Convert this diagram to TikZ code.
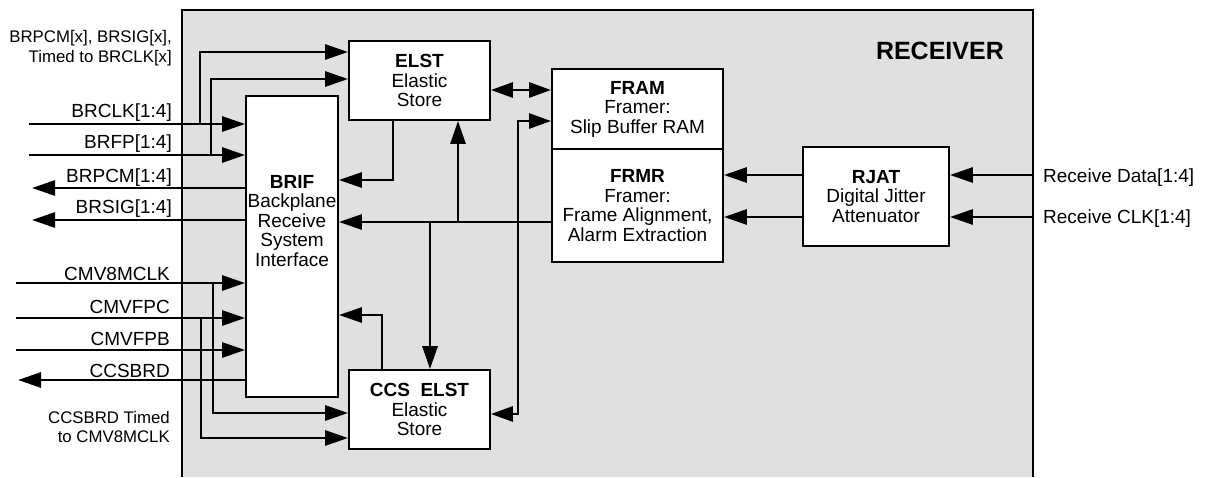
\documentclass[tikz,border=0pt]{standalone}
\usepackage{fontspec}
\setmainfont{Liberation Sans}
\usetikzlibrary{arrows.meta,calc}
\newcommand\myboxfont{\fontsize{19}{19.5}\selectfont}
\newcommand\mynotefont{\fontsize{16.8}{19.5}\selectfont}
\definecolor{recgray}{HTML}{E0E0E0}
\begin{document}
\begin{tikzpicture}[x=1pt,y=-1pt,
  box/.style={draw=black,line width=1.8pt,fill=white,inner sep=0pt,align=center,font=\myboxfont},
  txt/.style={inner sep=0pt,align=center,font=\myboxfont},
  lbl/.style={inner sep=0pt,font=\myboxfont},
  note/.style={inner sep=0pt,align=right,font=\mynotefont},
  wire/.style={line width=2.8pt},
  arr/.style={wire,-{Triangle[length=23pt,width=15pt]}},
  dblarr/.style={wire,{Triangle[length=22pt,width=15pt]}-{Triangle[length=22pt,width=15pt]}}]
\useasboundingbox (0,0) rectangle (1205,477);
% receiver frame
\fill[recgray] (182,10) rectangle (1033,477);
\draw[line width=2pt] (182,477) -- (182,10) -- (1033,10) -- (1033,477);
\node[anchor=base east,inner sep=0pt,font=\bfseries\fontsize{25}{30}\selectfont] (rec) at (1004,59) {RECEIVER};
% blocks
\node[box,minimum width=92pt,minimum height=301pt] (brif) at (292,246.5) {};
\node[txt] (briftext) at (292,221) {\textbf{BRIF}\\Backplane\\Receive\\System\\Interface};
\node[box,minimum width=141pt,minimum height=79pt] (elst) at (419.5,80.5) {\textbf{ELST}\\Elastic\\Store};
\node[box,minimum width=171pt,minimum height=80pt] (fram) at (637.5,109) {\textbf{FRAM}\\Framer:\\Slip Buffer RAM};
\node[box,minimum width=171pt,minimum height=113pt] (frmr) at (637.5,205.5) {\textbf{FRMR}\\Framer:\\Frame Alignment,\\Alarm Extraction};
\node[box,minimum width=141pt,minimum height=79pt] (ccs) at (419.5,409.5) {\textbf{CCS\ \ ELST}\\Elastic\\Store};
\node[box,minimum width=146pt,minimum height=99pt] (rjat) at (876,196.5) {\textbf{RJAT}\\Digital Jitter\\Attenuator};
% coordinates
\coordinate (brclkS) at (29,124);
\coordinate (brfpS) at (29,155);
\coordinate (brpcmE) at (32,188);
\coordinate (brsigE) at (32,220);
\coordinate (cmvS) at (16,283);
\coordinate (cmvfpcS) at (16,318);
\coordinate (cmvfpbS) at (16,350);
\coordinate (ccsbrdE) at (18,380);
\coordinate (j1) at (200,124);
\coordinate (t1) at (200,52);
\coordinate (j2) at (211,155);
\coordinate (t2) at (211,79);
\coordinate (j3) at (213,283);
\coordinate (b3) at (213,413);
\coordinate (j4) at (201,318);
\coordinate (b4) at (201,438);
\coordinate (e1) at (393,180);
\coordinate (bus) at (458,222);
\coordinate (bus2) at (430,222);
\coordinate (d1) at (500,90);
\coordinate (c1) at (518,414);
\coordinate (c2) at (518,121);
\coordinate (c3) at (382,315);
\coordinate (r1) at (1033,175);
\coordinate (r2) at (1033,217);
% left signals
\draw[arr] (brclkS) -- (brclkS -| brif.west);
\draw[arr] (brfpS) -- (brfpS -| brif.west);
\draw[arr] (brif.west |- brpcmE) -- (brpcmE);
\draw[arr] (brif.west |- brsigE) -- (brsigE);
\draw[arr] (cmvS) -- (cmvS -| brif.west);
\draw[arr] (cmvfpcS) -- (cmvfpcS -| brif.west);
\draw[arr] (cmvfpbS) -- (cmvfpbS -| brif.west);
\draw[arr] (brif.west |- ccsbrdE) -- (ccsbrdE);
% branches
\draw[arr] (j1) |- (elst.west |- t1);
\draw[arr] (j2) |- (elst.west |- t2);
\draw[arr] (j3) |- (ccs.west |- b3);
\draw[arr] (j4) |- (ccs.west |- b4);
% internal
\draw[arr] (elst.south -| e1) |- (brif.east |- e1);
\draw[arr] (frmr.west |- bus) -- (brif.east |- bus);
\draw[arr] (bus) -- (elst.south -| bus);
\draw[arr] (bus2) -- (ccs.north -| bus2);
\draw[dblarr] (elst.east |- d1) -- (fram.west |- d1);
\draw[dblarr] (ccs.east |- c1) -- (c1) -- (c2) -- (fram.west |- c2);
\draw[arr] (ccs.north -| c3) |- (brif.east |- c3);
\draw[arr] (rjat.west |- r1) -- (frmr.east |- r1);
\draw[arr] (rjat.west |- r2) -- (frmr.east |- r2);
\draw[arr] (r1) -- (rjat.east |- r1);
\draw[arr] (r2) -- (rjat.east |- r2);
% labels
\node[note,anchor=east] (n1) at (172,48) {BRPCM[x], BRSIG[x],\\Timed to BRCLK[x]};
\node[lbl,anchor=base east] (l1) at (172,117) {BRCLK[1:4]};
\node[lbl,anchor=base east] (l2) at (172,148) {BRFP[1:4]};
\node[lbl,anchor=base east] (l3) at (172,182) {BRPCM[1:4]};
\node[lbl,anchor=base east] (l4) at (172,213) {BRSIG[1:4]};
\node[lbl,anchor=base east] (l5) at (170,280) {CMV8MCLK};
\node[lbl,anchor=base east] (l6) at (170,313) {CMVFPC};
\node[lbl,anchor=base east] (l7) at (170,345) {CMVFPB};
\node[lbl,anchor=base east] (l8) at (170,377) {CCSBRD};
\node[note,anchor=east] (n2) at (170,427) {CCSBRD Timed\\to CMV8MCLK};
\node[lbl,anchor=base west] (l9) at (1043,182) {Receive Data[1:4]};
\node[lbl,anchor=base west] (l10) at (1043,223) {Receive CLK[1:4]};
\end{tikzpicture}
\end{document}
